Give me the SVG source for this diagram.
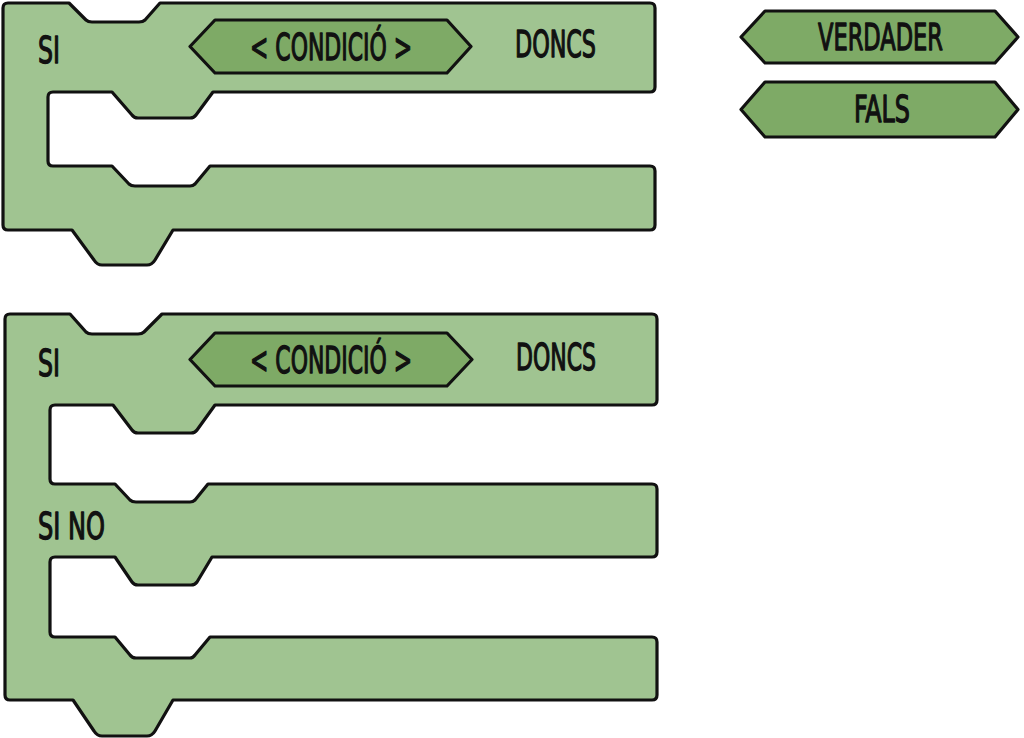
<svg xmlns="http://www.w3.org/2000/svg" width="1024" height="738" viewBox="0 0 1024 738">
<style>
.blk{fill:#A0C491;stroke:#111;stroke-width:3.2;stroke-linejoin:round}
.hex{fill:#7EAA66;stroke:#111;stroke-width:3.2;stroke-linejoin:round}
.t{font-family:"Liberation Sans Narrow","DejaVu Sans Condensed","Liberation Sans",sans-serif;font-weight:normal;font-size:38px;fill:#111;stroke:#111;stroke-width:1.3;stroke-linejoin:round}
</style>
<rect width="1024" height="738" fill="#fff"/>
<g id="block-si">
<path class="blk" d="M3,8 Q3,3 8,3 L69,3 L86,20 Q88,22 92,22 L139,22 Q143,22 145,20 L160,3 L650,3 Q655,3 655,8 L655,87 Q655,92 650,92 L213,92 L196,115 Q194,118 190,118 L138,118 Q134,118 132,115 L112,92 L53,92 Q48,92 48,97 L48,161 Q48,166 53,166 L112,166 L129,184 Q131,186 135,186 L190,186 Q193,186 195,184 L210,166 L650,166 Q655,166 655,171 L655,225 Q655,230 650,230 L173,230 L155,260 Q152,265 147,265 L102,265 Q97,265 94,260 L72,230 L8,230 Q3,230 3,225 Z"/>
<text class="t" x="38" y="63" textLength="22" lengthAdjust="spacingAndGlyphs">SI</text>
<text class="t" x="515" y="57" textLength="81" lengthAdjust="spacingAndGlyphs">DONCS</text>
</g>
<g id="cond-1">
<polygon class="hex" points="190,46.5 215,20 447,20 471,46.5 447,73 215,73"/>
<text class="t" x="250" y="60" textLength="162" lengthAdjust="spacingAndGlyphs">&lt; CONDICIÓ &gt;</text>
</g>
<g id="block-si-no">
<path class="blk" d="M5,319 Q5,314 10,314 L70,314 L86,332 Q88,334 92,334 L138,334 Q142,334 144,332 L162,314 L652,314 Q657,314 657,319 L657,400 Q657,405 652,405 L215,405 L197,430 Q195,433 191,433 L138,433 Q134,433 132,430 L113,405 L55,405 Q50,405 50,410 L50,479 Q50,484 55,484 L115,484 L130,500 Q132,502 136,502 L190,502 Q193,502 195,500 L208,484 L652,484 Q657,484 657,489 L657,552 Q657,557 652,557 L212,557 L197,582 Q195,585 191,585 L138,585 Q134,585 132,582 L115,557 L55,557 Q50,557 50,562 L50,632 Q50,637 55,637 L115,637 L130,655 Q132,658 136,658 L190,658 Q193,658 195,655 L210,637 L652,637 Q657,637 657,642 L657,695 Q657,700 652,700 L173,700 L155,731 Q152,736 147,736 L102,736 Q97,736 94,731 L73,700 L10,700 Q5,700 5,695 Z"/>
<text class="t" x="38" y="376" textLength="22" lengthAdjust="spacingAndGlyphs">SI</text>
<text class="t" x="516" y="370" textLength="80" lengthAdjust="spacingAndGlyphs">DONCS</text>
<text class="t" x="38" y="539" textLength="67" lengthAdjust="spacingAndGlyphs">SI NO</text>
</g>
<g id="cond-2">
<polygon class="hex" points="190,359.5 215,333 447,333 472,359.5 447,386 215,386"/>
<text class="t" x="250" y="373" textLength="162" lengthAdjust="spacingAndGlyphs">&lt; CONDICIÓ &gt;</text>
</g>
<g id="verdader">
<polygon class="hex" points="741,37 765,11 995,11 1018,37 995,63 765,63"/>
<text class="t" x="818" y="50" textLength="125" lengthAdjust="spacingAndGlyphs">VERDADER</text>
</g>
<g id="fals">
<polygon class="hex" points="741,109.5 765,82 995,82 1018,109.5 995,137 765,137"/>
<text class="t" x="854" y="122" textLength="56" lengthAdjust="spacingAndGlyphs">FALS</text>
</g>
</svg>
